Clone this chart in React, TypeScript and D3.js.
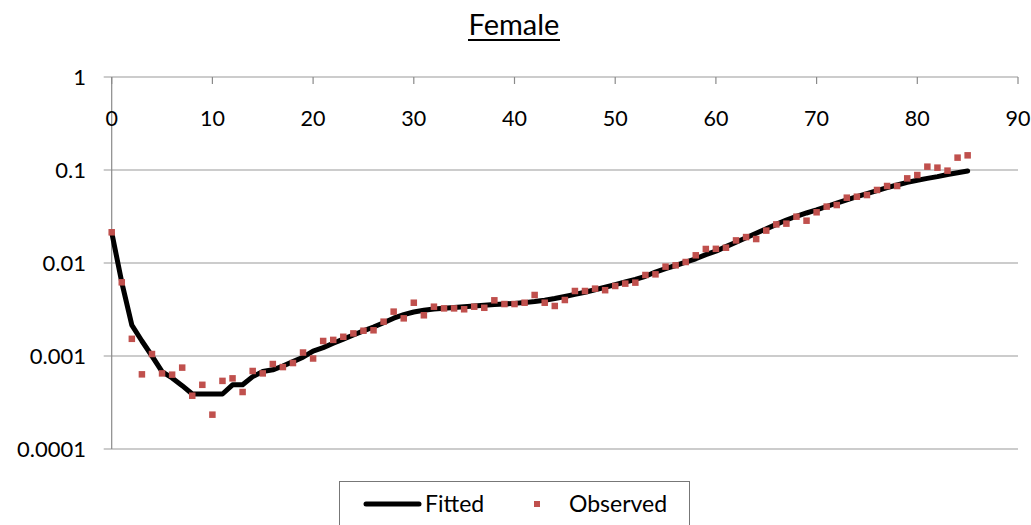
import React from "react";
import * as d3 from "d3";

// Ages 0..85
const ages: number[] = d3.range(0, 86);

// Observed female mortality rates by age
const observed: number[] = [
  0.0214, 0.0062, 0.00153, 0.000635, 0.00105, 0.00065, 0.00063, 0.00075, 0.000374, 0.00049,
  0.000234, 0.00054, 0.000575, 0.00041, 0.00069, 0.00065, 0.00082, 0.00076, 0.00084, 0.00109,
  0.00094, 0.00145, 0.00149, 0.00161, 0.00175, 0.00187, 0.00189, 0.00234, 0.0030, 0.00254,
  0.00374, 0.00274, 0.00339, 0.00325, 0.00325, 0.00318, 0.00339, 0.0033, 0.00397, 0.00362,
  0.00362, 0.00374, 0.00453, 0.00374, 0.00345, 0.0040, 0.0050, 0.0050, 0.0053, 0.0051,
  0.00566, 0.0060, 0.00615, 0.00743, 0.00755, 0.00914, 0.00944, 0.01025, 0.0121, 0.01415,
  0.0142, 0.0146, 0.0175, 0.019, 0.0181, 0.0223, 0.026, 0.0265, 0.0315, 0.0285,
  0.0351, 0.0404, 0.042, 0.0504, 0.0516, 0.0538, 0.061, 0.0673, 0.0673, 0.0813,
  0.0883, 0.1086, 0.106, 0.0984, 0.1358, 0.1438,
];

// Fitted female mortality rates by age
const fitted: number[] = [
  0.0214, 0.0062, 0.00215, 0.00145, 0.001, 0.00068, 0.00058, 0.00048, 0.00039, 0.00039,
  0.00039, 0.00039, 0.00049, 0.00049, 0.0006, 0.00068, 0.00071, 0.00078, 0.00087, 0.00097,
  0.00113, 0.00123, 0.00137, 0.00152, 0.00168, 0.00186, 0.00205, 0.00228, 0.00255, 0.00278,
  0.00297, 0.0031, 0.0032, 0.00327, 0.00333, 0.00339, 0.00345, 0.00351, 0.00357, 0.00363,
  0.00368, 0.00375, 0.00385, 0.00398, 0.00415, 0.00437, 0.0046, 0.00485, 0.00515, 0.00548,
  0.00585, 0.00625, 0.00665, 0.0072, 0.008, 0.0087, 0.0094, 0.0102, 0.0111, 0.0123,
  0.0134, 0.015, 0.0167, 0.0187, 0.0209, 0.0233, 0.026, 0.029, 0.0318, 0.0345,
  0.0372, 0.0405, 0.044, 0.0476, 0.0516, 0.0557, 0.06, 0.0645, 0.069, 0.0737,
  0.0776, 0.0812, 0.0848, 0.0893, 0.0935, 0.0976,
];

const xTicks: number[] = [0, 10, 20, 30, 40, 50, 60, 70, 80, 90];
const yTicks: number[] = [1, 0.1, 0.01, 0.001, 0.0001];
const yTickLabels: string[] = ["1", "0.1", "0.01", "0.001", "0.0001"];

const W = 1031;
const H = 525;
const FONT = "Lato, 'Open Sans', sans-serif";
const RED = "#c0504d";

export default function App() {
  const x = d3.scaleLinear().domain([0, 90]).range([111.7, 1018]);
  const y = d3.scaleLog().domain([0.0001, 1]).range([449, 77]);

  const linePath = d3
    .line<number>()
    .x((_, i) => x(ages[i]))
    .y((d) => y(d))(fitted) as string;

  const [x0, x1] = x.range();
  const ms = 6.5;

  return (
    <svg
      width={W}
      height={H}
      style={{ position: "absolute", left: 0, top: 0, background: "#fff" }}
      fontFamily={FONT}
    >
      <rect width={W} height={H} fill="#fff" />
      {/* title */}
      <text x={514} y={35} textAnchor="middle" fontSize={29} fill="#000">
        Female
      </text>
      <line x1={468} x2={560} y1={40} y2={40} stroke="#000" strokeWidth={1.8} />

      {/* horizontal gridlines */}
      {yTicks.map((t) => (
        <line key={"g" + t} x1={x0 - 8} x2={x1} y1={y(t)} y2={y(t)} stroke="#9a9a9a" strokeWidth={1.2} />
      ))}
      {/* y axis */}
      <line x1={x0} x2={x0} y1={y(1)} y2={y(0.0001)} stroke="#8a8a8a" strokeWidth={1.2} />
      {yTicks.map((t, i) => (
        <text key={"yl" + t} x={86} y={y(t)} dy="0.35em" textAnchor="end" fontSize={22} fill="#000">
          {yTickLabels[i]}
        </text>
      ))}
      {/* x axis along the top */}
      {xTicks.map((t) => (
        <g key={"x" + t}>
          <line x1={x(t)} x2={x(t)} y1={y(1)} y2={y(1) + 7} stroke="#8a8a8a" strokeWidth={1.2} />
          <text x={x(t)} y={118} dy="0.35em" textAnchor="middle" fontSize={21.5} fill="#000">
            {t}
          </text>
        </g>
      ))}

      {/* fitted curve */}
      <path d={linePath} fill="none" stroke="#000" strokeWidth={5} strokeLinejoin="round" strokeLinecap="round" />
      {/* observed points */}
      {observed.map((v, i) => (
        <rect key={"o" + i} x={x(ages[i]) - ms / 2} y={y(v) - ms / 2} width={ms} height={ms} fill={RED} />
      ))}

      {/* legend */}
      <rect x={339.5} y={481.5} width={350} height={60} fill="#fff" stroke="#777" strokeWidth={1} />
      <line x1={366} x2={419} y1={504} y2={504} stroke="#000" strokeWidth={5} strokeLinecap="round" />
      <text x={425} y={504} dy="0.35em" fontSize={23} fill="#000">
        Fitted
      </text>
      <rect x={537 - 3} y={504 - 3} width={6} height={6} fill={RED} />
      <text x={569} y={504} dy="0.35em" fontSize={23} fill="#000">
        Observed
      </text>
    </svg>
  );
}
